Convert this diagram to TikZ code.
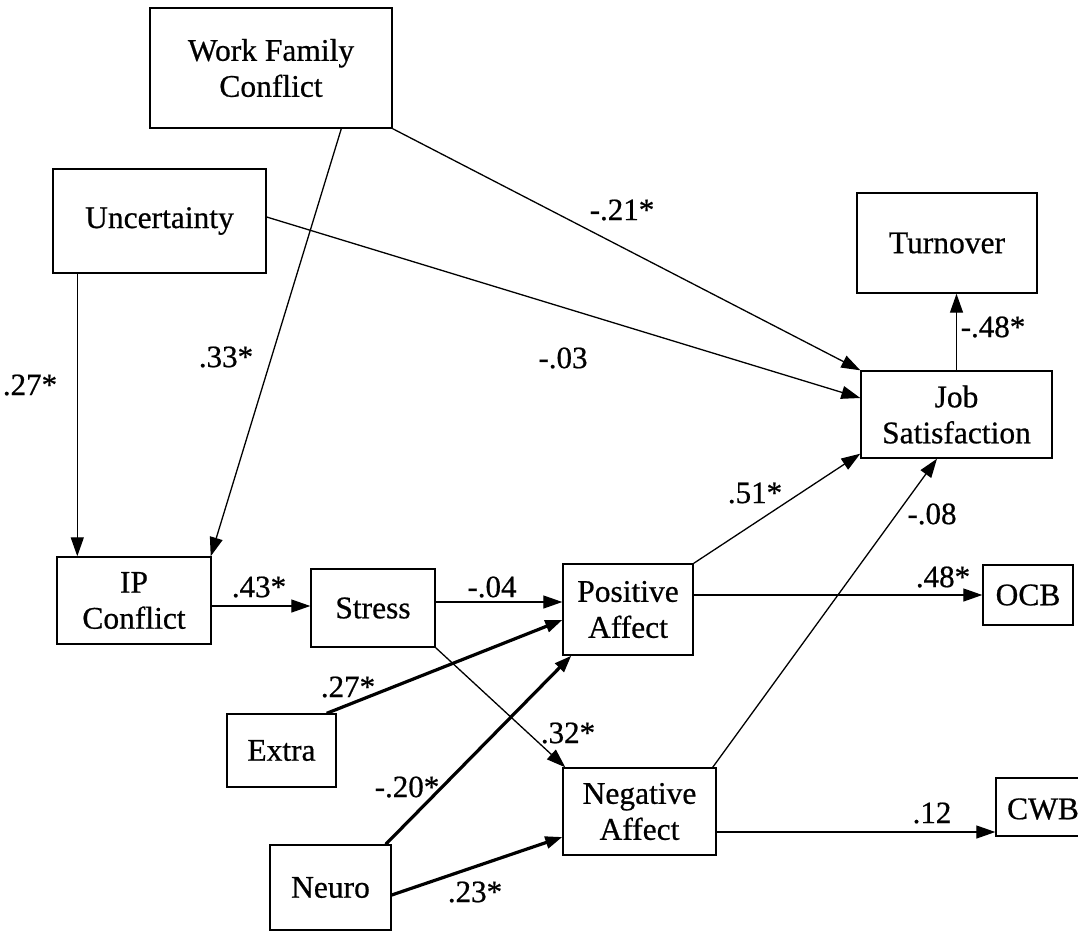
\documentclass[tikz,border=0pt]{standalone}
\usepackage{fontspec}
\setmainfont{Liberation Serif}[FakeBold=0.6]
\usetikzlibrary{arrows.meta,calc}
\begin{document}
\begin{tikzpicture}[x=1pt,y=-1pt,
  box/.style={draw,line width=1.4pt,align=center,inner sep=0pt,font=\fontsize{31.5}{36}\selectfont},
  lab/.style={font=\fontsize{31}{36}\selectfont,inner sep=0pt},
  arr/.style={line width=1.3pt,-{Triangle[length=19pt,width=13pt]}},
  tarr/.style={line width=3.2pt,-{Triangle[length=17pt,width=12pt]}}]
\useasboundingbox (0,0) rectangle (1078,932);
\clip (0,0) rectangle (1078,932);
\node[box,minimum width=242pt,minimum height=120pt] (wfc) at (271,68) {Work Family\\Conflict};
\node[box,minimum width=213pt,minimum height=104pt] (unc) at (159.5,221) {Uncertainty};
\node[box,minimum width=180pt,minimum height=100pt] (turn) at (947,243) {Turnover};
\node[box,minimum width=191pt,minimum height=87pt] (js) at (956.5,414.5) {Job\\Satisfaction};
\node[box,minimum width=154pt,minimum height=87pt] (ip) at (134,600.5) {IP\\Conflict};
\node[box,minimum width=124pt,minimum height=78pt] (stress) at (373,608) {Stress};
\node[box,minimum width=130pt,minimum height=91pt] (pa) at (628,609.5) {Positive\\Affect};
\node[box,minimum width=90pt,minimum height=60pt] (ocb) at (1028,595) {OCB};
\node[box,minimum width=100pt,minimum height=58pt] (cwb) at (1046,807) {};
\node[lab,font=\fontsize{31.5}{36}\selectfont] (cwbt) at (1043,809) {CWB};
\node[box,minimum width=109pt,minimum height=73pt] (extra) at (281.5,750.5) {Extra};
\node[box,minimum width=153pt,minimum height=87pt] (na) at (639.5,811.5) {Negative\\Affect};
\node[box,minimum width=121pt,minimum height=85pt] (neuro) at (330.5,887.5) {Neuro};

\draw[arr] ([xshift=25pt]unc.south west) -- ([xshift=21pt]ip.north west);
\draw[arr] ([xshift=192pt]wfc.south west) -- ([xshift=-1pt]ip.north east);
\draw[arr] (wfc.south east) -- (js.north west);
\draw[arr] ([yshift=4pt]unc.east) -- ([yshift=16.5pt]js.west);
\draw[arr] (js.north) -- (js.north |- turn.south);
\draw[arr] ([yshift=-5.5pt]ip.east) -- ([yshift=2pt]stress.west);
\draw[arr] ([yshift=6pt]stress.east) -- ([yshift=7.5pt]pa.west);
\draw[arr] (stress.south east) -- ([xshift=3pt]na.north west);
\draw[tarr] ([xshift=-10pt]extra.north east) -- ([yshift=-10.5pt]pa.west);
\draw[tarr] ([xshift=-6pt]neuro.north east) -- ([xshift=9pt]pa.south west);
\draw[tarr] ([yshift=-7.5pt]neuro.east) -- ([yshift=-25.5pt]na.west);
\draw[arr] (pa.north east) -- ([yshift=5pt]js.south west);
\draw[arr] ([xshift=-4pt]na.north east) -- ([xshift=-19.5pt]js.south);
\draw[arr] ([yshift=14.5pt]pa.east) -- (ocb.west);
\draw[arr] ([yshift=-20.5pt]na.east) -- ([yshift=-25pt]cwb.west);

\node[lab] (l1) at (622,210) {-.21*};
\node[lab] (l2) at (563,358) {-.03};
\node[lab] (l3) at (30,385) {.27*};
\node[lab] (l4) at (226,357) {.33*};
\node[lab] (l5) at (993,327) {-.48*};
\node[lab] (l6) at (259,587) {.43*};
\node[lab] (l7) at (492,587) {-.04};
\node[lab] (l8) at (755,493) {.51*};
\node[lab] (l9) at (932,514) {-.08};
\node[lab] (l10) at (943,577) {.48*};
\node[lab] (l11) at (348,687) {.27*};
\node[lab] (l12) at (568,733) {.32*};
\node[lab] (l13) at (407,787) {-.20*};
\node[lab] (l14) at (475,892) {.23*};
\node[lab] (l15) at (932,813) {.12};
\end{tikzpicture}
\end{document}
